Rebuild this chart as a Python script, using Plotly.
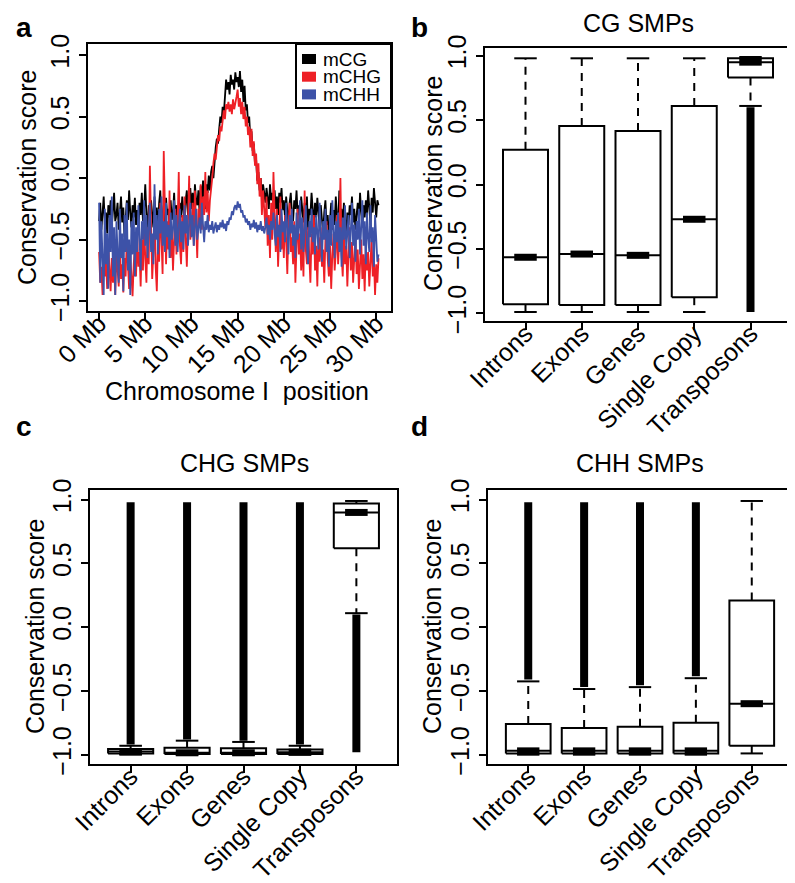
import plotly.graph_objects as go

# ---- panel a: conservation score along chromosome I (0.125 Mb bins) ----
# one row per Mb
mcg = [
    -0.35, -0.20, -0.42, -0.25, -0.15, -0.38, -0.28, -0.45,
    -0.22, -0.32, -0.18, -0.40, -0.26, -0.12, -0.35, -0.30,
    -0.20, -0.42, -0.28, -0.15, -0.36, -0.24, -0.48, -0.30,
    -0.18, -0.34, -0.10, -0.28, -0.40, -0.22, -0.32, -0.16,
    -0.38, -0.26, -0.44, -0.20, -0.30, -0.12, -0.35, -0.25,
    -0.05, -0.30, -0.42, -0.22, -0.35, -0.18, -0.28, -0.40,
    -0.15, -0.32, -0.24, -0.45, -0.20, -0.10, -0.36, -0.28,
    -0.22, -0.40, -0.16, -0.30, -0.25, -0.45, -0.18, -0.34,
    -0.28, -0.12, -0.38, -0.22, -0.30, -0.50, -0.20, -0.32,
    -0.15, -0.26, -0.40, -0.18, -0.10, -0.30, -0.22, -0.08,
    -0.25, -0.12, -0.30, -0.05, -0.18, -0.22, -0.10, -0.28,
    -0.06, -0.20, -0.02, -0.15, -0.25, -0.05, -0.12, 0.02,
    -0.10, 0.05, 0.10, 0.00, 0.18, 0.25, 0.32, 0.28,
    0.40, 0.50, 0.45, 0.58, 0.52, 0.65, 0.80, 0.72,
    0.78, 0.68, 0.84, 0.76, 0.80, 0.72, 0.86, 0.78,
    0.82, 0.74, 0.87, 0.70, 0.80, 0.62, 0.75, 0.55,
    0.60, 0.45, 0.50, 0.32, 0.38, 0.22, 0.28, 0.12,
    0.15, -0.02, 0.05, -0.10, 0.00, -0.15, -0.05, -0.12,
    -0.20, -0.08, -0.15, -0.25, -0.05, -0.18, -0.12, -0.22,
    -0.10, -0.25, -0.15, -0.30, -0.12, -0.20, -0.08, -0.26,
    -0.18, -0.32, -0.15, -0.25, -0.38, -0.20, -0.12, -0.28,
    -0.35, -0.18, -0.25, -0.10, -0.30, -0.22, -0.40, -0.15,
    -0.28, -0.36, -0.20, -0.32, -0.15, -0.42, -0.25, -0.30,
    -0.12, -0.28, -0.38, -0.20, -0.32, -0.16, -0.26, -0.40,
    -0.22, -0.35, -0.45, -0.28, -0.18, -0.38, -0.30, -0.48,
    -0.32, -0.20, -0.42, -0.26, -0.38, -0.15, -0.30, -0.44,
    -0.10, -0.35, -0.25, -0.40, -0.20, -0.32, -0.46, -0.28,
    -0.38, -0.22, -0.30, -0.15, -0.36, -0.25, -0.42, -0.30,
    -0.20, -0.35, -0.12, -0.28, -0.40, -0.22, -0.32, -0.18,
    -0.30, -0.10, -0.26, -0.38, -0.16, -0.28, -0.08, -0.24,
    -0.32, -0.18, -0.22]
mchg = [
    -0.60, -0.85, -0.72, -0.95, -0.62, -0.80, -0.68, -0.90,
    -0.55, -0.78, -0.92, -0.65, -0.85, -0.70, -0.95, -0.60,
    -0.75, -0.88, -0.58, -0.82, -0.70, -0.93, -0.65, -0.80,
    -0.50, -0.78, -0.90, -0.62, -0.85, -0.96, -0.70, -0.55,
    -0.80, -0.45, -0.72, -0.60, -0.88, -0.50, -0.75, -0.35,
    -0.65, -0.85, -0.40, -0.70, 0.10, -0.55, -0.82, -0.60,
    -0.30, -0.72, -0.92, -0.50, -0.68, -0.20, -0.60, -0.78,
    0.22, -0.45, -0.70, -0.35, -0.58, -0.10, -0.65, -0.40,
    -0.75, -0.50, -0.25, -0.62, -0.38, 0.05, -0.55, -0.70,
    -0.30, -0.60, -0.15, -0.48, -0.72, -0.35, 0.02, -0.50,
    -0.40, -0.20, -0.55, -0.10, -0.45, -0.65, -0.25, -0.38,
    -0.05, -0.42, -0.15, -0.30, 0.05, -0.28, -0.10, -0.35,
    -0.18, -0.05, 0.00, 0.12, 0.20, 0.15, 0.28, 0.35,
    0.30, 0.42, 0.38, 0.50, 0.55, 0.48, 0.60, 0.56,
    0.62, 0.54, 0.60, 0.52, 0.64, 0.56, 0.60, 0.66,
    0.72, 0.58, 0.65, 0.52, 0.62, 0.48, 0.58, 0.42,
    0.50, 0.35, 0.42, 0.25, 0.40, 0.18, 0.30, 0.10,
    0.20, -0.05, 0.12, -0.15, 0.00, -0.30, -0.10, -0.22,
    -0.40, -0.15, -0.55, -0.30, -0.65, -0.20, -0.50, 0.05,
    -0.35, -0.60, -0.25, -0.72, -0.45, -0.15, -0.58, -0.40,
    -0.65, -0.30, -0.50, -0.78, -0.40, -0.20, -0.60, -0.48,
    -0.70, -0.35, -0.85, -0.55, -0.25, -0.62, -0.45, -0.75,
    -0.50, -0.80, -0.10, -0.58, -0.70, -0.40, -0.65, -0.85,
    -0.45, -0.62, -0.30, -0.75, -0.55, -0.88, -0.48, -0.68,
    -0.40, -0.72, -0.58, -0.85, -0.50, -0.35, -0.66, -0.80,
    -0.55, -0.90, -0.62, -0.45, -0.75, -0.60, -0.30, -0.70,
    -0.50, 0.00, -0.62, -0.80, -0.45, -0.70, -0.55, -0.88,
    -0.60, -0.40, -0.75, -0.52, -0.85, -0.65, -0.45, -0.78,
    -0.58, -0.90, -0.70, -0.50, -0.82, -0.62, -0.92, -0.55,
    -0.75, -0.60, -0.88, -0.68, -0.50, -0.80, -0.65, -0.95,
    -0.70, -0.85, -0.65]
mchh = [
    -0.20, -0.85, -0.35, -0.65, -0.95, -0.25, -0.70, -0.45,
    -0.90, -0.30, -0.60, -0.15, -0.80, -0.40, -0.95, -0.35,
    -0.55, -0.85, -0.25, -0.65, -0.45, -0.92, -0.30, -0.60,
    -0.20, -0.75, -0.50, -0.95, -0.35, -0.62, -0.28, -0.80,
    -0.40, -0.60, -0.22, -0.55, -0.75, -0.35, -0.50, -0.18,
    -0.55, -0.30, -0.65, -0.40, -0.20, -0.60, -0.45, -0.70,
    -0.05, -0.50, -0.30, -0.62, -0.25, -0.45, -0.15, -0.55,
    -0.35, -0.60, -0.20, -0.48, -0.38, -0.65, -0.28, -0.50,
    -0.42, -0.18, -0.55, -0.30, -0.60, -0.40, -0.25, -0.52,
    -0.35, -0.58, -0.22, -0.45, -0.30, -0.55, -0.40, -0.20,
    -0.48, -0.30, -0.55, -0.38, -0.25, -0.50, -0.42, -0.32,
    -0.45, -0.20, -0.38, -0.52, -0.35, -0.42, -0.30, -0.44,
    -0.38, -0.42, -0.35, -0.45, -0.40, -0.36, -0.44, -0.38,
    -0.42, -0.36, -0.40, -0.34, -0.41, -0.37, -0.43, -0.35,
    -0.38, -0.32, -0.34, -0.27, -0.30, -0.24, -0.22, -0.26,
    -0.19, -0.24, -0.21, -0.28, -0.26, -0.32, -0.30, -0.36,
    -0.33, -0.38, -0.35, -0.42, -0.37, -0.40, -0.34, -0.41,
    -0.36, -0.44, -0.38, -0.42, -0.35, -0.43, -0.39, -0.45,
    -0.40, -0.32, -0.46, -0.38, -0.50, -0.35, -0.42, -0.28,
    -0.45, -0.55, -0.30, -0.48, -0.38, -0.60, -0.25, -0.44,
    -0.35, -0.52, -0.20, -0.48, -0.62, -0.30, -0.45, -0.25,
    -0.55, -0.38, -0.65, -0.28, -0.50, -0.40, -0.18, -0.58,
    -0.32, -0.60, -0.45, -0.22, -0.55, -0.70, -0.35, -0.48,
    -0.25, -0.52, -0.40, -0.62, -0.30, -0.45, -0.58, -0.20,
    -0.45, -0.68, -0.35, -0.50, -0.25, -0.60, -0.42, -0.72,
    -0.30, -0.55, -0.18, -0.48, -0.65, -0.35, -0.52, -0.28,
    -0.60, -0.40, -0.72, -0.32, -0.50, -0.22, -0.58, -0.45,
    -0.30, -0.65, -0.42, -0.20, -0.55, -0.38, -0.68, -0.35,
    -0.50, -0.25, -0.62, -0.40, -0.18, -0.55, -0.35, -0.70,
    -0.28, -0.48, -0.60, -0.22, -0.52, -0.40, -0.72, -0.30,
    -0.55, -0.68, -0.62]
bin_mb = 0.125
position_mb = [i * bin_mb for i in range(len(mcg))]
mb_ticks = [0, 5, 10, 15, 20, 25, 30]
mb_labels = ["0 Mb", "5 Mb", "10 Mb", "15 Mb", "20 Mb", "25 Mb", "30 Mb"]

score_ticks = [-1.0, -0.5, 0.0, 0.5, 1.0]

# ---- panels b-d: boxplot summaries ----
categories = ["Introns", "Exons", "Genes", "Single Copy", "Transposons"]

# CG SMPs
cg_low = [-0.99, -0.99, -0.99, -0.99, 0.61]
cg_q1 = [-0.93, -0.935, -0.935, -0.875, 0.83]
cg_med = [-0.565, -0.54, -0.55, -0.27, 0.95]
cg_q3 = [0.27, 0.455, 0.415, 0.61, 0.98]
cg_high = [0.98, 0.98, 0.98, 0.98, 0.99]
cg_out_low = [None, None, None, None, -0.99]
cg_out_high = [None, None, None, None, 0.60]

# CHG SMPs
chg_low = [-1.0, -1.0, -1.0, -1.0, 0.11]
chg_q1 = [-0.99, -0.995, -0.995, -0.995, 0.62]
chg_med = [-0.975, -0.985, -0.985, -0.98, 0.90]
chg_q3 = [-0.955, -0.945, -0.95, -0.96, 0.97]
chg_high = [-0.93, -0.89, -0.90, -0.93, 0.99]
chg_out_low = [-0.92, -0.88, -0.89, -0.92, -0.98]
chg_out_high = [0.98, 0.98, 0.98, 0.98, 0.10]

# CHH SMPs
chh_low = [-1.0, -1.0, -1.0, -1.0, -0.99]
chh_q1 = [-0.99, -0.99, -0.99, -0.99, -0.93]
chh_med = [-0.97, -0.97, -0.97, -0.97, -0.60]
chh_q3 = [-0.76, -0.79, -0.78, -0.75, 0.21]
chh_high = [-0.425, -0.485, -0.47, -0.40, 0.99]
chh_out_low = [-0.41, -0.47, -0.455, -0.385, None]
chh_out_high = [0.98, 0.98, 0.98, 0.98, None]

FONT = "Liberation Sans, Arial, Helvetica, sans-serif"
BOX_HALF = 0.4
CAP_HALF = 0.2


def segments(pairs):
    """Turn a list of ((x0, y0), (x1, y1)) into x/y lists split by None."""
    xs, ys = [], []
    for (x0, y0), (x1, y1) in pairs:
        xs += [x0, x1, None]
        ys += [y0, y1, None]
    return xs, ys


def add_boxplot(fig, low, q1, med, q3, high, out_low, out_high, xa, ya):
    """Draw R style boxplots from precomputed stats."""
    pos = list(range(1, len(low) + 1))
    line = dict(color="black", width=2)

    whisk = []
    caps = []
    boxes_x, boxes_y = [], []
    med_thin, med_thick, outl = [], [], []
    for p, lo, a, m, b, hi, ol, oh in zip(pos, low, q1, med, q3, high,
                                         out_low, out_high):
        whisk += [((p, b), (p, hi)), ((p, a), (p, lo))]
        caps += [((p - CAP_HALF, hi), (p + CAP_HALF, hi)),
                 ((p - CAP_HALF, lo), (p + CAP_HALF, lo))]
        boxes_x += [p - BOX_HALF, p + BOX_HALF, p + BOX_HALF, p - BOX_HALF,
                    p - BOX_HALF, None]
        boxes_y += [a, a, b, b, a, None]
        med_thin.append(((p - BOX_HALF, m), (p + BOX_HALF, m)))
        med_thick.append(((p - CAP_HALF, m), (p + CAP_HALF, m)))
        if ol is not None:
            outl.append(((p, ol), (p, oh)))

    x, y = segments(whisk)
    fig.add_trace(go.Scatter(x=x, y=y, mode="lines", xaxis=xa, yaxis=ya,
                             line=dict(color="black", width=2,
                                       dash="8px,7px"),
                             showlegend=False, hoverinfo="skip"))
    fig.add_trace(go.Scatter(x=boxes_x, y=boxes_y, mode="lines", xaxis=xa,
                             yaxis=ya, line=line, showlegend=False,
                             hoverinfo="skip"))
    x, y = segments(caps + med_thin)
    fig.add_trace(go.Scatter(x=x, y=y, mode="lines", xaxis=xa, yaxis=ya,
                             line=line, showlegend=False, hoverinfo="skip"))
    x, y = segments(med_thick)
    fig.add_trace(go.Scatter(x=x, y=y, mode="lines", xaxis=xa, yaxis=ya,
                             line=dict(color="black", width=7),
                             showlegend=False, hoverinfo="skip"))
    x, y = segments(outl)
    fig.add_trace(go.Scatter(x=x, y=y, mode="lines", xaxis=xa, yaxis=ya,
                             line=dict(color="black", width=8),
                             showlegend=False, hoverinfo="skip"))


fig = go.Figure()

# panel a lines
series = [("mCG", mcg, "#000000"), ("mCHG", mchg, "#ee2026"),
          ("mCHH", mchh, "#3d52a8")]
for name, vals, col in series:
    fig.add_trace(go.Scatter(x=position_mb, y=vals, mode="lines", name=name,
                             line=dict(color=col, width=1.8),
                             showlegend=False, xaxis="x", yaxis="y"))

add_boxplot(fig, cg_low, cg_q1, cg_med, cg_q3, cg_high, cg_out_low,
            cg_out_high, "x2", "y2")
add_boxplot(fig, chg_low, chg_q1, chg_med, chg_q3, chg_high, chg_out_low,
            chg_out_high, "x3", "y3")
add_boxplot(fig, chh_low, chh_q1, chh_med, chh_q3, chh_high, chh_out_low,
            chh_out_high, "x4", "y4")

W, H = 795, 883


def px_x(v):
    return v / W


def px_y(v):
    return 1 - v / H


axis_common = dict(showline=True, mirror=True, linecolor="black",
                   linewidth=2, showgrid=False, zeroline=False,
                   automargin=False,
                   ticks="outside", ticklen=7, tickwidth=2,
                   tickcolor="black", tickfont=dict(size=25, color="black"))
y_common = dict(axis_common, tickvals=score_ticks, tickformat=".1f",
                tickangle=-90)
x_common = dict(axis_common, tickangle=-45, ticklabelstandoff=-21)
cat_x = dict(x_common, tickvals=list(range(1, len(categories) + 1)),
             ticktext=categories, range=[0.28, 5.72])

fig.update_layout(
    width=W, height=H, margin=dict(l=0, r=0, t=0, b=0, autoexpand=False),
    paper_bgcolor="white", plot_bgcolor="white", showlegend=False,
    font=dict(family=FONT, size=25, color="black"),
    xaxis=dict(x_common, domain=[px_x(80), px_x(383)], range=[-1.2, 31.6],
               tickvals=mb_ticks, ticktext=mb_labels, anchor="y"),
    yaxis=dict(y_common, domain=[px_y(303), px_y(36)], range=[-1.08, 1.09],
               anchor="x"),
    xaxis2=dict(cat_x, domain=[px_x(477), px_x(783)], anchor="y2"),
    yaxis2=dict(y_common, domain=[px_y(313), px_y(40)], range=[-1.06, 1.06],
                anchor="x2"),
    xaxis3=dict(cat_x, domain=[px_x(82), px_x(389)], anchor="y3"),
    yaxis3=dict(y_common, domain=[px_y(756), px_y(482)],
                range=[-1.073, 1.076], anchor="x3"),
    xaxis4=dict(cat_x, domain=[px_x(480), px_x(784)], anchor="y4"),
    yaxis4=dict(y_common, domain=[px_y(756), px_y(482)],
                range=[-1.073, 1.076], anchor="x4"),
)

# legend of panel a, drawn as a framed key in the top right corner
shapes = [dict(type="rect", xref="paper", yref="paper",
               x0=px_x(288), x1=px_x(383), y0=px_y(100), y1=px_y(36),
               line=dict(color="black", width=2), fillcolor="white")]
annotations = []
for k, (name, vals, col) in enumerate(series):
    yc = 51 + k * 17.7
    shapes.append(dict(type="rect", xref="paper", yref="paper",
                       x0=px_x(294), x1=px_x(308), y0=px_y(yc + 5),
                       y1=px_y(yc - 5), line=dict(width=0), fillcolor=col))
    annotations.append(dict(text=name, x=px_x(313), y=px_y(yc),
                            xanchor="left", font=dict(size=19)))
fig.update_layout(shapes=shapes)

annotations += [
    # panel letters
    dict(text="<b>a</b>", x=px_x(16), y=px_y(19), font=dict(size=28)),
    dict(text="<b>b</b>", x=px_x(411), y=px_y(19), font=dict(size=28)),
    dict(text="<b>c</b>", x=px_x(16), y=px_y(419), font=dict(size=28)),
    dict(text="<b>d</b>", x=px_x(411), y=px_y(419), font=dict(size=28)),
    # titles
    dict(text="CG SMPs", x=px_x(630), y=px_y(15)),
    dict(text="CHG SMPs", x=px_x(236), y=px_y(455)),
    dict(text="CHH SMPs", x=px_x(632), y=px_y(455)),
    # axis titles
    dict(text="Conservation score", x=px_x(19), y=px_y(170), textangle=-90),
    dict(text="Conservation score", x=px_x(425), y=px_y(176), textangle=-90),
    dict(text="Conservation score", x=px_x(27), y=px_y(619), textangle=-90),
    dict(text="Conservation score", x=px_x(424), y=px_y(619), textangle=-90),
    dict(text="Chromosome I\u00a0 position", x=px_x(229), y=px_y(383)),
]
for a in annotations:
    a.update(xref="paper", yref="paper", showarrow=False, yanchor="middle")
    a.setdefault("xanchor", "center")
    a.setdefault("font", dict(size=25))
fig.update_layout(annotations=annotations)

fig.write_html("out.html")
